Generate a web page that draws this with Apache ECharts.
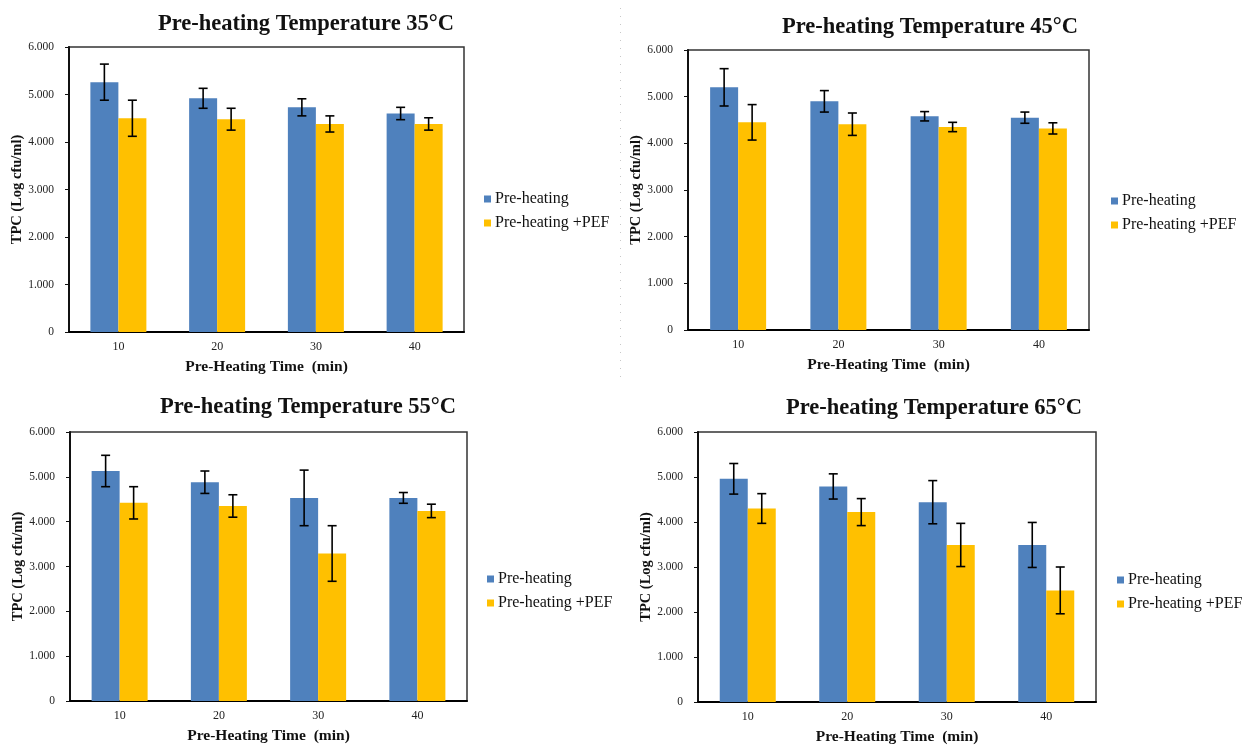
<!DOCTYPE html>
<html><head><meta charset="utf-8">
<script src="https://cdn.jsdelivr.net/npm/echarts@6/dist/echarts.min.js"></script>
<style>html,body{margin:0;padding:0;background:#fff}#c{width:1244px;height:746px}</style>
</head><body><div id="c"></div><script>
// ---------- data ----------
const categories = ['10', '20', '30', '40'];
const seriesNames = ['Pre-heating', 'Pre-heating +PEF'];
const panelTitles = ['Pre-heating Temperature 35°C', 'Pre-heating Temperature 45°C', 'Pre-heating Temperature 55°C', 'Pre-heating Temperature 65°C'];
const xAxisTitle = 'Pre-Heating Time  (min)';
const yAxisTitle = 'TPC (Log cfu/ml)';
const yMin = 0, yMax = 6, yStep = 1;

const heat35 = [5.26, 4.92, 4.73, 4.60];
const heat35Err = [0.38, 0.21, 0.18, 0.13];
const pef35 = [4.50, 4.48, 4.38, 4.38];
const pef35Err = [0.38, 0.23, 0.17, 0.13];

const heat45 = [5.20, 4.90, 4.58, 4.55];
const heat45Err = [0.40, 0.23, 0.10, 0.12];
const pef45 = [4.45, 4.41, 4.35, 4.32];
const pef45Err = [0.38, 0.24, 0.10, 0.12];

const heat55 = [5.13, 4.88, 4.53, 4.53];
const heat55Err = [0.35, 0.25, 0.62, 0.12];
const pef55 = [4.42, 4.35, 3.29, 4.24];
const pef55Err = [0.36, 0.25, 0.62, 0.15];

const heat65 = [4.96, 4.79, 4.44, 3.49];
const heat65Err = [0.34, 0.28, 0.48, 0.50];
const pef65 = [4.30, 4.22, 3.49, 2.48];
const pef65Err = [0.33, 0.30, 0.48, 0.52];

const panelData = [
  [heat35, heat35Err, pef35, pef35Err],
  [heat45, heat45Err, pef45, pef45Err],
  [heat55, heat55Err, pef55, pef55Err],
  [heat65, heat65Err, pef65, pef65Err]
];

// ---------- layout / style ----------
const grids = [
  { left: 69, top: 47, width: 395, height: 285 },
  { left: 688, top: 50, width: 401, height: 280 },
  { left: 70, top: 432, width: 397, height: 269 },
  { left: 698, top: 432, width: 398, height: 271 }
];
const titlePos = [
  { x: 301, y: 8 }, { x: 925, y: 11 }, { x: 303, y: 391 }, { x: 929, y: 392 }
];
const legendPos = [
  { x: 484, y: 191 }, { x: 1111, y: 193 }, { x: 487, y: 571 }, { x: 1117, y: 572 }
];
const colors = ['#4F81BD', '#FFC000'];
const BAR_W = 28;
const FONT = 'Liberation Serif';

function errRender(sign) {
  return function (params, api) {
    const i = api.value(0), v = api.value(1), e = api.value(2);
    const hi = api.coord([i, v + e]);
    const lo = api.coord([i, v - e]);
    const x = hi[0] + sign * BAR_W / 2;
    const cap = 4.5;
    const st = { stroke: '#000', lineWidth: 1.6 };
    return {
      type: 'group', children: [
        { type: 'line', shape: { x1: x, y1: hi[1], x2: x, y2: lo[1] }, style: st },
        { type: 'line', shape: { x1: x - cap, y1: hi[1], x2: x + cap, y2: hi[1] }, style: st },
        { type: 'line', shape: { x1: x - cap, y1: lo[1], x2: x + cap, y2: lo[1] }, style: st }
      ]
    };
  };
}

const option = {
  backgroundColor: '#fff',
  animation: false,
  title: [], legend: [], grid: [], xAxis: [], yAxis: [], series: [],
  graphic: [{
    type: 'line', shape: { x1: 620.5, y1: 8, x2: 620.5, y2: 378 },
    style: { stroke: '#c8c8c8', lineWidth: 1, lineDash: [1, 7] }
  }]
};

for (let k = 0; k < 4; k++) {
  option.title.push({
    text: panelTitles[k], left: titlePos[k].x, top: titlePos[k].y, textAlign: 'center',
    textStyle: { fontFamily: FONT, fontWeight: 'bold', fontSize: 22.5, color: '#111' }
  });
  option.legend.push({
    data: seriesNames, orient: 'vertical', left: legendPos[k].x, top: legendPos[k].y,
    icon: 'rect', itemWidth: 7, itemHeight: 7, itemGap: 8, padding: 0,
    textStyle: { fontFamily: FONT, fontSize: 16, color: '#111', padding: [0, 0, 0, -1] }
  });
  option.grid.push(Object.assign({ show: true, borderColor: '#333', borderWidth: 1.5, backgroundColor: 'transparent' }, grids[k]));
  option.xAxis.push({
    type: 'category', gridIndex: k, data: categories,
    axisLine: { lineStyle: { color: '#000', width: 2 } },
    axisTick: { show: false },
    axisLabel: { fontFamily: FONT, fontSize: 12, color: '#222', margin: 9 },
    name: xAxisTitle, nameLocation: 'middle', nameGap: 27, nameMoveOverlap: false,
    nameTextStyle: { fontFamily: FONT, fontWeight: 'bold', fontSize: 15.5, color: '#111' }
  });
  option.yAxis.push({
    type: 'value', gridIndex: k, min: yMin, max: yMax, interval: yStep,
    splitLine: { show: false },
    axisLine: { show: true, lineStyle: { color: '#111', width: 2 } },
    axisTick: { show: true, length: 4, lineStyle: { color: '#111', width: 1 } },
    axisLabel: {
      fontFamily: FONT, fontSize: 11.5, color: '#222', margin: 15,
      formatter: v => (v === 0 ? '0' : v.toFixed(3))
    },
    name: yAxisTitle, nameLocation: 'middle', nameGap: 44, nameRotate: 90, nameMoveOverlap: false,
    nameTextStyle: { fontFamily: FONT, fontWeight: 'bold', fontSize: 14.5, color: '#111' }
  });
  const d = panelData[k];
  for (let s = 0; s < 2; s++) {
    const vals = d[s * 2], errs = d[s * 2 + 1];
    option.series.push({
      name: seriesNames[s], type: 'bar', xAxisIndex: k, yAxisIndex: k,
      data: vals, barWidth: BAR_W, barGap: '0%',
      itemStyle: { color: colors[s] }
    });
    option.series.push({
      name: 'err' + k + '_' + s, type: 'custom', xAxisIndex: k, yAxisIndex: k, z: 5,
      renderItem: errRender(s === 0 ? -1 : 1),
      encode: { x: 0, y: 1 },
      data: vals.map((v, i) => [i, v, errs[i]])
    });
  }
}

const chart = echarts.init(document.getElementById('c'), null, { renderer: 'canvas' });
chart.setOption(option);
</script></body></html>
